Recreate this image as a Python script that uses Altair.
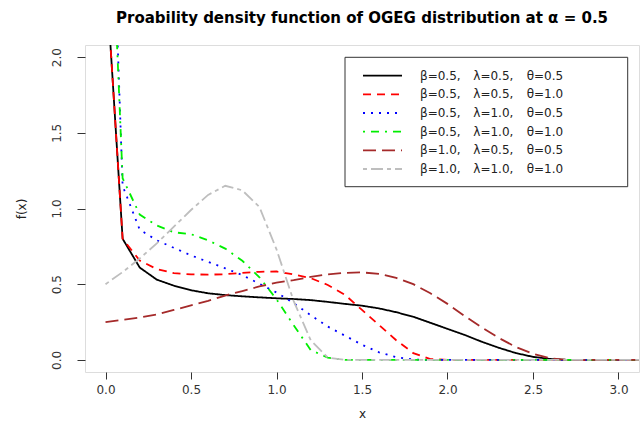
import altair as alt
import pandas as pd

# Evaluation grid and density values for each parameter set
x_vals = [0.0, 0.1, 0.2, 0.3, 0.4, 0.5, 0.6, 0.7, 0.8, 0.9, 1.0,
          1.1, 1.2, 1.3, 1.4, 1.5, 1.6, 1.7, 1.8, 1.9, 2.0,
          2.1, 2.2, 2.3, 2.4, 2.5, 2.6, 2.7, 2.8, 2.9, 3.0, 3.1, 3.2]

f_b05_l05_t05 = [2.6, 0.80, 0.61, 0.53, 0.49, 0.46, 0.44, 0.428, 0.42, 0.413, 0.407,
                 0.402, 0.395, 0.383, 0.37, 0.358, 0.34, 0.315, 0.285, 0.245, 0.205,
                 0.165, 0.12, 0.08, 0.045, 0.02, 0.006, 0, 0, 0, 0, 0, 0]
f_b05_l05_t10 = [2.6, 0.80, 0.656, 0.60, 0.573, 0.565, 0.563, 0.566, 0.575, 0.582, 0.584,
                 0.565, 0.54, 0.495, 0.43, 0.33, 0.23, 0.13, 0.045, 0.005, 0,
                 0, 0, 0, 0, 0, 0, 0, 0, 0, 0, 0, 0]
f_b05_l10_t05 = [4.4, 1.15, 0.86, 0.79, 0.74, 0.69, 0.648, 0.605, 0.56, 0.503, 0.445,
                 0.375, 0.295, 0.22, 0.16, 0.10, 0.05, 0.018, 0.003, 0, 0,
                 0, 0, 0, 0, 0, 0, 0, 0, 0, 0, 0, 0]
f_b05_l10_t10 = [3.9, 1.2, 0.96, 0.888, 0.843, 0.83, 0.79, 0.735, 0.655, 0.546, 0.40,
                 0.23, 0.065, 0.015, 0, 0, 0, 0, 0, 0, 0,
                 0, 0, 0, 0, 0, 0, 0, 0, 0, 0, 0, 0]
f_b10_l05_t05 = [0.25, 0.265, 0.28, 0.30, 0.33, 0.36, 0.39, 0.425, 0.455, 0.485, 0.51,
                 0.527, 0.548, 0.565, 0.575, 0.578, 0.568, 0.542, 0.50, 0.44, 0.37,
                 0.29, 0.215, 0.145, 0.085, 0.04, 0.01, 0, 0, 0, 0, 0, 0]
f_b10_l10_t10 = [0.5, 0.58, 0.67, 0.77, 0.88, 0.99, 1.09, 1.15, 1.12, 1.01, 0.73,
                 0.39, 0.13, 0.015, 0, 0, 0, 0, 0, 0, 0,
                 0, 0, 0, 0, 0, 0, 0, 0, 0, 0, 0, 0]

betas = ["β=0.5,", "β=0.5,", "β=0.5,", "β=0.5,", "β=1.0,", "β=1.0,"]
lambdas = ["λ=0.5,", "λ=0.5,", "λ=1.0,", "λ=1.0,", "λ=0.5,", "λ=1.0,"]
thetas = ["θ=0.5", "θ=1.0", "θ=0.5", "θ=1.0", "θ=0.5", "θ=1.0"]
series_values = [f_b05_l05_t05, f_b05_l05_t10, f_b05_l10_t05,
                 f_b05_l10_t10, f_b10_l05_t05, f_b10_l10_t10]

colors = ["#000000", "#FF0000", "#0000FF", "#00EE00", "#A52A2A", "#BEBEBE"]
dashes = [[1, 0], [8, 6], [2, 6], [2, 6, 8, 6], [13, 6], [4, 4, 12, 4]]

keys = [f"{b} {l} {t}" for b, l, t in zip(betas, lambdas, thetas)]

rows = []
for k, vals in zip(keys, series_values):
    for xv, fv in zip(x_vals, vals):
        rows.append({"series": k, "x": xv, "f": fv})
curves = pd.DataFrame(rows)

legend_df = pd.DataFrame({"series": keys, "row": list(range(len(keys))),
                          "beta": betas, "lam": lambdas, "theta": thetas})

W, H = 554, 327
FONT = "DejaVu Sans"

color_scale = alt.Scale(domain=keys, range=colors)
dash_scale = alt.Scale(domain=keys, range=dashes)

lines = alt.Chart(curves).mark_line(clip=True, strokeWidth=1.8).encode(
    x=alt.X("x:Q", title="x",
            scale=alt.Scale(domain=[-0.12, 3.12], nice=False, zero=False),
            axis=alt.Axis(values=[0, 0.5, 1.0, 1.5, 2.0, 2.5, 3.0], format=".1f",
                          grid=False, domain=False, tickSize=7, tickColor="#333",
                          labelFont=FONT, labelFontSize=12, labelColor="#333",
                          labelPadding=5, titleFont=FONT, titleFontSize=12,
                          titleFontWeight="normal", titleColor="#222",
                          titleBaseline="alphabetic", titleY=45)),
    y=alt.Y("f:Q", title="f(x)",
            scale=alt.Scale(domain=[-0.08, 2.08], nice=False, zero=False),
            axis=alt.Axis(values=[0, 0.5, 1.0, 1.5, 2.0], format=".1f",
                          grid=False, domain=False, tickSize=8, tickColor="#333",
                          labelFont=FONT, labelFontSize=12, labelColor="#333",
                          labelAngle=270, labelAlign="center",
                          labelBaseline="alphabetic", labelPadding=17,
                          titleFont=FONT, titleFontSize=12, titleFontWeight="normal",
                          titleColor="#222", titleAngle=270, titleAlign="center",
                          titleBaseline="alphabetic", titleX=-60, titleY=H / 2)),
    color=alt.Color("series:N", scale=color_scale, legend=None),
    strokeDash=alt.StrokeDash("series:N", scale=dash_scale, legend=None),
    order=alt.Order("x:Q"),
)

# Legend panel drawn inside the plot area
box = alt.Chart(pd.DataFrame({"k": [0]})).mark_rect(
    fill="white", stroke="#333", strokeWidth=1
).encode(x=alt.value(260), x2=alt.value(542.7), y=alt.value(12.3), y2=alt.value(141.7))

row_y = alt.Y("row:Q", scale=alt.Scale(domain=[0, 5], range=[30.7, 124]), axis=None)

samples = alt.Chart(legend_df).mark_rule(strokeWidth=1.8).encode(
    x=alt.value(278), x2=alt.value(317), y=row_y,
    color=alt.Color("series:N", scale=color_scale, legend=None),
    strokeDash=alt.StrokeDash("series:N", scale=dash_scale, legend=None),
)

def legend_text(field, xpos):
    return alt.Chart(legend_df).mark_text(
        align="left", baseline="middle", font=FONT, fontSize=12, color="#222"
    ).encode(x=alt.value(xpos), y=row_y, text=f"{field}:N")

legend = alt.layer(samples, legend_text("beta", 335),
                   legend_text("lam", 388.3), legend_text("theta", 441.7))

chart = alt.layer(lines, box, legend).resolve_scale(y="independent").properties(
    width=W, height=H,
    title=alt.TitleParams(
        "Proability density function of OGEG distribution at α = 0.5",
        font=FONT, fontSize=15, fontWeight="bold", color="#000",
        anchor="middle", baseline="alphabetic", offset=23, dy=16,
    ),
    autosize=alt.AutoSizeParams(type="none"),
    padding={"left": 85, "top": 45, "right": 1, "bottom": 49},
).configure_view(stroke="#222", strokeWidth=1).configure(background="white")

chart.save("out.html", embed_options={"renderer": "svg", "actions": False})
